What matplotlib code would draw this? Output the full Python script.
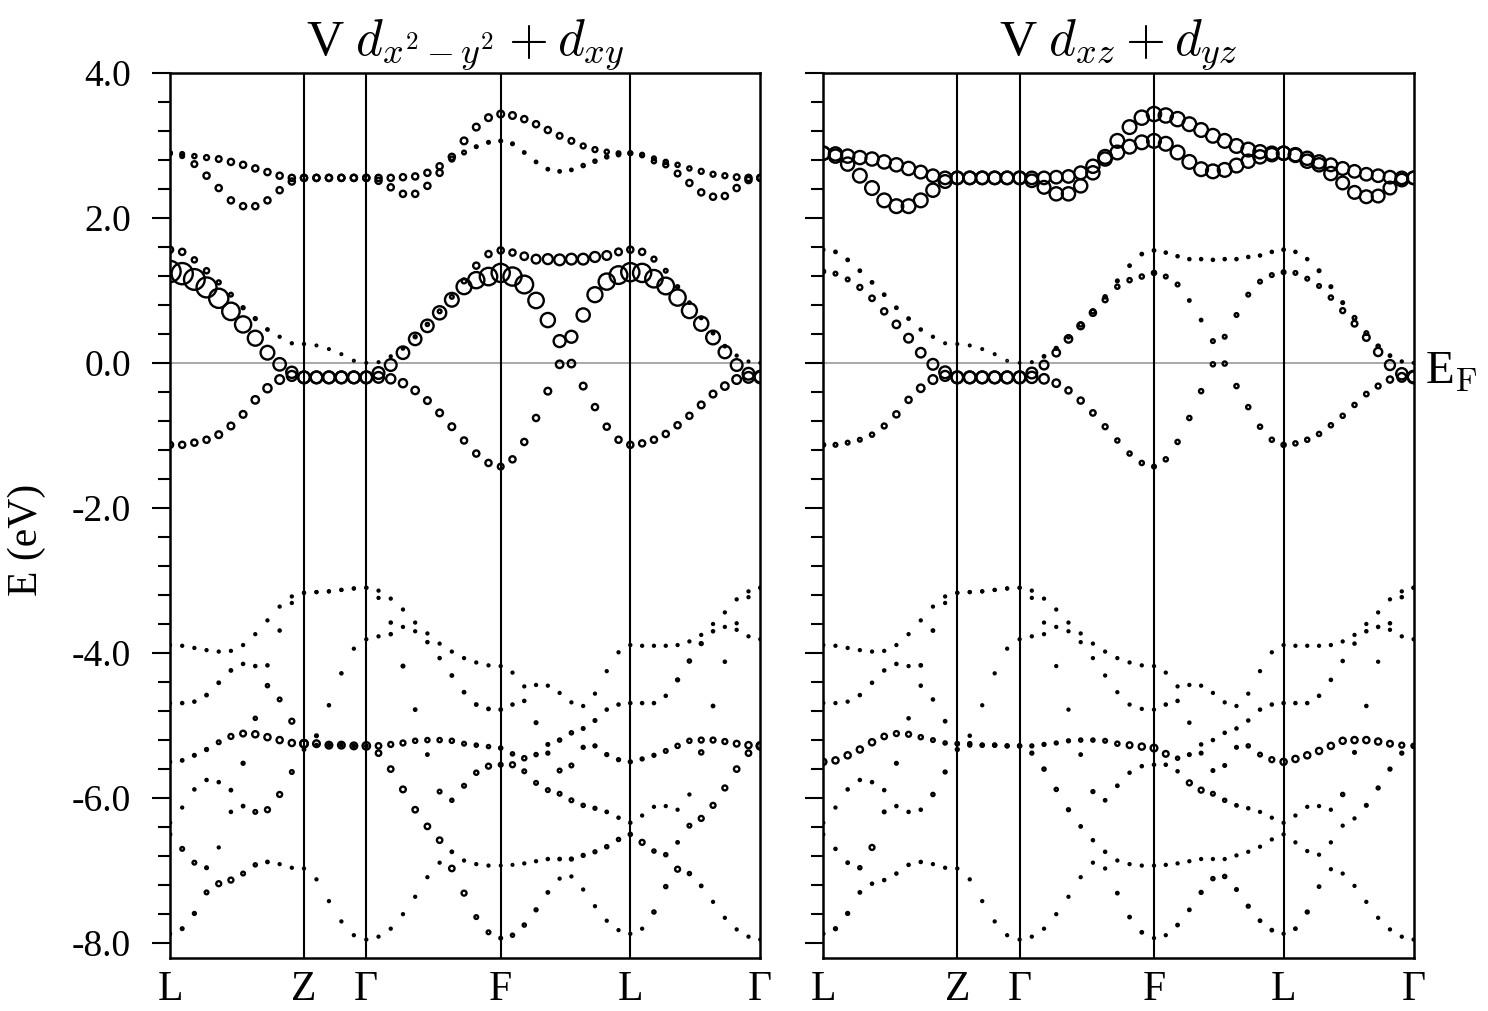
import numpy as np
import matplotlib
matplotlib.use('Agg')
import matplotlib.pyplot as plt
from matplotlib.ticker import FormatStrFormatter, MultipleLocator

plt.rcParams['font.family'] = 'serif'
plt.rcParams['font.serif'] = ['Liberation Serif', 'DejaVu Serif']
plt.rcParams['mathtext.fontset'] = 'cm'
plt.rcParams['axes.unicode_minus'] = False

# k-path: L-Z-G-F-L-G, segment lengths and number of intervals per segment
seg_len = [134.0, 62.3, 134.4, 129.6, 130.0]
seg_pts = [11, 5, 11, 11, 11]
sym_labels = ['L', 'Z', 'Γ', 'F', 'L', 'Γ']
titles = [r'V $d_{x^2-y^2}+d_{xy}$', r'V $d_{xz}+d_{yz}$']

# band energies (eV), one value per k-point (12 + 5 + 11 + 11 + 11 = 50)
u1 = [2.89, 2.88, 2.85, 2.83, 2.81, 2.77, 2.73, 2.68, 2.63, 2.58, 2.55, 2.55,
      2.55, 2.55, 2.55, 2.55, 2.55,
      2.55, 2.55, 2.56, 2.57, 2.62, 2.71, 2.84, 3.06, 3.25, 3.38, 3.43,
      3.41, 3.36, 3.29, 3.21, 3.13, 3.06, 2.99, 2.94, 2.91, 2.89, 2.89,
      2.87, 2.82, 2.77, 2.73, 2.68, 2.64, 2.60, 2.58, 2.56, 2.55, 2.55]
u2 = [2.89, 2.85, 2.74, 2.58, 2.41, 2.24, 2.16, 2.16, 2.24, 2.38, 2.50, 2.55,
      2.55, 2.55, 2.55, 2.55, 2.55,
      2.51, 2.42, 2.33, 2.33, 2.44, 2.62, 2.81, 2.90, 2.98, 3.04, 3.06,
      3.02, 2.90, 2.77, 2.67, 2.64, 2.66, 2.72, 2.78, 2.84, 2.87, 2.89,
      2.86, 2.78, 2.73, 2.61, 2.48, 2.35, 2.29, 2.30, 2.41, 2.52, 2.55]
m1 = [1.56, 1.53, 1.42, 1.27, 1.11, 0.94, 0.76, 0.61, 0.46, 0.36, 0.27, 0.26,
      0.24, 0.19, 0.12, 0.03, 0.00,
      0.01, 0.09, 0.20, 0.36, 0.53, 0.71, 0.91, 1.13, 1.34, 1.50, 1.55,
      1.52, 1.47, 1.43, 1.43, 1.42, 1.43, 1.43, 1.46, 1.48, 1.53, 1.56,
      1.53, 1.43, 1.27, 1.05, 0.83, 0.62, 0.41, 0.23, 0.10, 0.02, 0.00]
m2 = [1.26, 1.23, 1.15, 1.04, 0.89, 0.71, 0.53, 0.34, 0.14, -0.02, -0.13, -0.20,
      -0.20, -0.20, -0.20, -0.20, -0.20,
      -0.14, -0.03, 0.14, 0.33, 0.51, 0.69, 0.87, 1.05, 1.14, 1.19, 1.24,
      1.19, 1.08, 0.86, 0.59, 0.30, 0.36, 0.66, 0.94, 1.12, 1.21, 1.25,
      1.24, 1.16, 1.06, 0.90, 0.72, 0.54, 0.35, 0.15, -0.03, -0.15, -0.19]
m3 = [-1.13, -1.13, -1.10, -1.06, -0.99, -0.87, -0.71, -0.51, -0.35, -0.23, -0.18, -0.20,
      -0.20, -0.20, -0.20, -0.20, -0.20,
      -0.20, -0.22, -0.28, -0.38, -0.52, -0.69, -0.88, -1.07, -1.25, -1.38, -1.43,
      -1.33, -1.09, -0.76, -0.39, -0.02, -0.01, -0.32, -0.61, -0.88, -1.06, -1.13,
      -1.11, -1.06, -0.98, -0.86, -0.73, -0.58, -0.43, -0.32, -0.23, -0.20, -0.20]
v1 = [-3.89, -3.90, -3.93, -3.96, -3.98, -3.97, -3.89, -3.74, -3.55, -3.36, -3.22, -3.17,
      -3.16, -3.15, -3.13, -3.11, -3.10,
      -3.14, -3.25, -3.40, -3.58, -3.73, -3.87, -3.98, -4.07, -4.13, -4.17, -4.18,
      -4.27, -4.46, -4.44, -4.45, -4.55, -4.68, -4.73, -4.56, -4.25, -3.99, -3.89,
      -3.90, -3.90, -3.90, -3.89, -3.84, -3.75, -3.60, -3.44, -3.26, -3.15, -3.10]
v2 = [-4.69, -4.69, -4.67, -4.58, -4.41, -4.24, -4.15, -4.18, -4.17, -3.69, -3.31, -3.17,
      -3.16, -3.15, -3.13, -3.11, -3.10,
      -3.24, -3.58, -3.64, -3.70, -3.85, -4.07, -4.31, -4.54, -4.71, -4.77, -4.78,
      -4.71, -4.66, -4.96, -5.26, -5.20, -5.10, -5.04, -4.93, -4.78, -4.71, -4.69,
      -4.69, -4.69, -4.59, -4.37, -4.11, -3.87, -3.70, -3.64, -3.59, -3.23, -3.10]
v3 = [-5.50, -5.48, -5.41, -5.33, -5.23, -5.15, -5.11, -4.90, -4.45, -4.64, -4.94, -5.25,
      -5.14, -4.72, -4.28, -3.94, -3.81,
      -3.77, -3.74, -4.18, -4.78, -5.20, -5.20, -5.21, -5.25, -5.27, -5.29, -5.31,
      -5.39, -5.45, -5.40, -5.38, -5.62, -5.55, -5.30, -5.28, -5.40, -5.47, -5.50,
      -5.46, -5.41, -5.35, -5.28, -5.21, -5.20, -4.73, -4.12, -3.68, -3.77, -3.81]
v4 = [-6.34, -6.13, -5.88, -5.75, -5.78, -5.89, -5.52, -5.12, -5.16, -5.20, -5.24, -5.25,
      -5.25, -5.27, -5.27, -5.28, -5.28,
      -5.28, -5.26, -5.24, -5.21, -5.40, -5.91, -6.03, -5.83, -5.65, -5.56, -5.54,
      -5.54, -5.63, -5.79, -5.89, -5.94, -6.03, -6.10, -6.14, -6.19, -6.27, -6.34,
      -6.24, -6.12, -6.11, -6.16, -5.95, -5.37, -5.20, -5.22, -5.25, -5.27, -5.28]
v5 = [-6.50, -6.70, -6.89, -6.96, -6.68, -6.19, -6.11, -6.19, -6.16, -5.95, -5.64, -5.33,
      -5.27, -5.27, -5.27, -5.28, -5.28,
      -5.38, -5.60, -5.88, -6.16, -6.39, -6.58, -6.74, -6.86, -6.91, -6.93, -6.93,
      -6.92, -6.90, -6.87, -6.84, -6.84, -6.84, -6.79, -6.74, -6.67, -6.57, -6.50,
      -6.61, -6.73, -6.78, -6.61, -6.38, -6.28, -6.10, -5.86, -5.60, -5.38, -5.28]
v6 = [-7.87, -7.80, -7.59, -7.30, -7.18, -7.13, -7.04, -6.92, -6.88, -6.91, -6.96, -6.97,
      -7.12, -7.42, -7.70, -7.89, -7.95,
      -7.91, -7.80, -7.60, -7.36, -7.09, -6.89, -6.97, -7.31, -7.64, -7.85, -7.93,
      -7.89, -7.75, -7.54, -7.30, -7.11, -7.08, -7.26, -7.49, -7.69, -7.82, -7.87,
      -7.80, -7.57, -7.22, -6.98, -7.04, -7.21, -7.43, -7.65, -7.81, -7.91, -7.95]

# orbital weights, left panel (dx2-y2 + dxy)
wl_u1 = [0.10, 0.10, 0.12, 0.15, 0.18, 0.20, 0.20, 0.20, 0.20, 0.20, 0.20, 0.20,
         0.20, 0.20, 0.20, 0.20, 0.20,
         0.20, 0.20, 0.20, 0.20, 0.20, 0.20, 0.20, 0.22, 0.22, 0.22, 0.22,
         0.22, 0.20, 0.20, 0.20, 0.18, 0.18, 0.15, 0.15, 0.12, 0.10, 0.10,
         0.10, 0.10, 0.12, 0.12, 0.12, 0.15, 0.15, 0.15, 0.18, 0.20, 0.20]
wl_u2 = [0.10, 0.10, 0.18, 0.20, 0.20, 0.20, 0.20, 0.20, 0.20, 0.20, 0.20, 0.20,
         0.20, 0.20, 0.20, 0.20, 0.20,
         0.20, 0.20, 0.20, 0.20, 0.20, 0.20, 0.15, 0.10, 0.06, 0.06, 0.06,
         0.06, 0.05, 0.05, 0.05, 0.05, 0.05, 0.08, 0.08, 0.08, 0.08, 0.10,
         0.10, 0.12, 0.15, 0.18, 0.20, 0.20, 0.20, 0.20, 0.20, 0.20, 0.20]
wl_m1 = [0.20, 0.20, 0.16, 0.16, 0.11, 0.10, 0.07, 0.07, 0.05, 0.03, 0.03, 0.03,
         0.02, 0.02, 0.02, 0.02, 0.02,
         0.02, 0.03, 0.05, 0.07, 0.08, 0.10, 0.10, 0.15, 0.20, 0.20, 0.20,
         0.20, 0.25, 0.30, 0.35, 0.38, 0.38, 0.38, 0.35, 0.30, 0.22, 0.20,
         0.20, 0.15, 0.10, 0.07, 0.05, 0.05, 0.05, 0.05, 0.03, 0.02, 0.02]
wl_m2 = [0.80, 0.80, 0.78, 0.75, 0.72, 0.65, 0.60, 0.55, 0.50, 0.45, 0.40, 0.42,
         0.42, 0.42, 0.42, 0.42, 0.42,
         0.42, 0.42, 0.45, 0.45, 0.45, 0.48, 0.50, 0.55, 0.60, 0.65, 0.68,
         0.68, 0.66, 0.57, 0.52, 0.43, 0.43, 0.48, 0.55, 0.60, 0.66, 0.68,
         0.68, 0.65, 0.62, 0.60, 0.55, 0.52, 0.50, 0.45, 0.42, 0.42, 0.42]
wl_m3 = [0.20, 0.20, 0.20, 0.20, 0.22, 0.22, 0.22, 0.25, 0.28, 0.30, 0.35, 0.42,
         0.42, 0.42, 0.42, 0.42, 0.42,
         0.38, 0.32, 0.28, 0.25, 0.22, 0.22, 0.22, 0.20, 0.20, 0.20, 0.18,
         0.20, 0.20, 0.20, 0.22, 0.25, 0.25, 0.22, 0.20, 0.20, 0.20, 0.20,
         0.20, 0.20, 0.20, 0.20, 0.20, 0.22, 0.22, 0.25, 0.30, 0.38, 0.42]
wl_v1 = [0.03] * 50
wl_v2 = [0.03, 0.04, 0.04, 0.05, 0.05, 0.05, 0.04, 0.04, 0.04, 0.04, 0.03, 0.03,
         0.03, 0.03, 0.03, 0.03, 0.03,
         0.03, 0.04, 0.03, 0.03, 0.04, 0.04, 0.05, 0.05, 0.05, 0.05, 0.05,
         0.04, 0.04, 0.06, 0.06, 0.08, 0.08, 0.06, 0.06, 0.04, 0.04, 0.04,
         0.04, 0.04, 0.04, 0.07, 0.08, 0.07, 0.04, 0.03, 0.03, 0.03, 0.03]
wl_v3 = [0.04, 0.05, 0.06, 0.07, 0.10, 0.15, 0.18, 0.08, 0.08, 0.10, 0.15, 0.25,
         0.06, 0.04, 0.04, 0.03, 0.03,
         0.03, 0.04, 0.06, 0.05, 0.12, 0.12, 0.12, 0.10, 0.08, 0.08, 0.08,
         0.08, 0.12, 0.08, 0.07, 0.10, 0.10, 0.07, 0.07, 0.07, 0.07, 0.07,
         0.07, 0.07, 0.10, 0.12, 0.12, 0.15, 0.05, 0.04, 0.03, 0.03, 0.03]
wl_v4 = [0.04, 0.03, 0.04, 0.04, 0.04, 0.05, 0.07, 0.20, 0.20, 0.20, 0.20, 0.25,
         0.22, 0.22, 0.22, 0.22, 0.25,
         0.17, 0.15, 0.15, 0.12, 0.05, 0.10, 0.08, 0.10, 0.12, 0.15, 0.10,
         0.15, 0.10, 0.10, 0.10, 0.10, 0.10, 0.08, 0.07, 0.05, 0.04, 0.04,
         0.03, 0.03, 0.03, 0.03, 0.03, 0.12, 0.15, 0.15, 0.18, 0.20, 0.25]
wl_v5 = [0.05, 0.10, 0.10, 0.06, 0.03, 0.04, 0.05, 0.10, 0.15, 0.15, 0.10, 0.05,
         0.05, 0.05, 0.05, 0.05, 0.05,
         0.17, 0.17, 0.18, 0.17, 0.17, 0.17, 0.05, 0.03, 0.03, 0.03, 0.02,
         0.02, 0.03, 0.03, 0.04, 0.05, 0.07, 0.07, 0.07, 0.08, 0.08, 0.08,
         0.15, 0.08, 0.08, 0.05, 0.10, 0.15, 0.15, 0.15, 0.17, 0.17, 0.20]
wl_v6 = [0.03, 0.06, 0.07, 0.10, 0.15, 0.15, 0.10, 0.08, 0.05, 0.03, 0.03, 0.03,
         0.03, 0.03, 0.03, 0.03, 0.03,
         0.03, 0.03, 0.03, 0.03, 0.03, 0.03, 0.17, 0.15, 0.10, 0.10, 0.06,
         0.08, 0.08, 0.07, 0.05, 0.03, 0.03, 0.03, 0.03, 0.03, 0.03, 0.03,
         0.03, 0.08, 0.08, 0.15, 0.08, 0.05, 0.03, 0.03, 0.03, 0.03, 0.03]

# orbital weights, right panel (dxz + dyz)
wr_u1 = [0.48, 0.48, 0.48, 0.48, 0.48, 0.48, 0.48, 0.48, 0.46, 0.45, 0.45, 0.45,
         0.45, 0.45, 0.45, 0.45, 0.45,
         0.45, 0.45, 0.45, 0.45, 0.46, 0.48, 0.50, 0.50, 0.50, 0.52, 0.52,
         0.52, 0.52, 0.50, 0.50, 0.50, 0.50, 0.50, 0.50, 0.48, 0.48, 0.48,
         0.48, 0.48, 0.48, 0.46, 0.46, 0.45, 0.45, 0.45, 0.45, 0.45, 0.45]
wr_u2 = [0.48, 0.48, 0.48, 0.50, 0.50, 0.50, 0.50, 0.50, 0.50, 0.48, 0.46, 0.45,
         0.45, 0.45, 0.45, 0.45, 0.45,
         0.45, 0.46, 0.48, 0.48, 0.48, 0.48, 0.48, 0.50, 0.50, 0.50, 0.50,
         0.50, 0.50, 0.50, 0.50, 0.50, 0.50, 0.50, 0.48, 0.48, 0.48, 0.48,
         0.48, 0.48, 0.48, 0.48, 0.46, 0.46, 0.46, 0.46, 0.46, 0.45, 0.45]
wr_m1 = [0.04, 0.05, 0.05, 0.05, 0.05, 0.05, 0.05, 0.05, 0.04, 0.03, 0.02, 0.02,
         0.02, 0.02, 0.02, 0.01, 0.01,
         0.02, 0.05, 0.07, 0.08, 0.12, 0.12, 0.08, 0.06, 0.05, 0.05, 0.05,
         0.04, 0.04, 0.04, 0.04, 0.04, 0.04, 0.04, 0.04, 0.04, 0.04, 0.05,
         0.04, 0.04, 0.06, 0.06, 0.06, 0.10, 0.10, 0.08, 0.05, 0.03, 0.02]
wr_m2 = [0.10, 0.10, 0.10, 0.15, 0.17, 0.20, 0.25, 0.30, 0.33, 0.38, 0.42, 0.42,
         0.42, 0.42, 0.42, 0.42, 0.42,
         0.38, 0.30, 0.25, 0.25, 0.22, 0.20, 0.15, 0.12, 0.12, 0.12, 0.12,
         0.10, 0.10, 0.05, 0.05, 0.10, 0.10, 0.10, 0.10, 0.10, 0.10, 0.10,
         0.10, 0.10, 0.10, 0.12, 0.15, 0.18, 0.22, 0.28, 0.35, 0.40, 0.42]
wr_m3 = [0.10, 0.10, 0.10, 0.10, 0.12, 0.15, 0.20, 0.20, 0.25, 0.30, 0.35, 0.42,
         0.42, 0.42, 0.42, 0.42, 0.42,
         0.40, 0.33, 0.25, 0.20, 0.20, 0.17, 0.15, 0.12, 0.12, 0.12, 0.10,
         0.12, 0.12, 0.12, 0.12, 0.12, 0.12, 0.12, 0.12, 0.12, 0.12, 0.12,
         0.12, 0.12, 0.12, 0.12, 0.12, 0.12, 0.13, 0.15, 0.20, 0.30, 0.42]
wr_v1 = [0.03] * 50
wr_v2 = [0.03, 0.03, 0.03, 0.04, 0.04, 0.04, 0.04, 0.03, 0.05, 0.05, 0.03, 0.03,
         0.03, 0.03, 0.03, 0.03, 0.03,
         0.03, 0.03, 0.03, 0.03, 0.03, 0.03, 0.03, 0.03, 0.03, 0.03, 0.03,
         0.04, 0.04, 0.04, 0.04, 0.04, 0.04, 0.04, 0.04, 0.04, 0.04, 0.04,
         0.04, 0.04, 0.04, 0.04, 0.04, 0.04, 0.04, 0.04, 0.04, 0.04, 0.04]
wr_v3 = [0.20, 0.20, 0.20, 0.20, 0.20, 0.17, 0.15, 0.04, 0.04, 0.04, 0.05, 0.08,
         0.04, 0.03, 0.03, 0.03, 0.03,
         0.03, 0.03, 0.03, 0.03, 0.08, 0.08, 0.10, 0.12, 0.18, 0.20, 0.22,
         0.18, 0.08, 0.06, 0.06, 0.06, 0.06, 0.06, 0.08, 0.10, 0.15, 0.20,
         0.20, 0.20, 0.20, 0.20, 0.20, 0.20, 0.04, 0.03, 0.03, 0.03, 0.03]
wr_v4 = [0.03, 0.03, 0.04, 0.04, 0.04, 0.04, 0.06, 0.15, 0.12, 0.10, 0.08, 0.08,
         0.08, 0.08, 0.08, 0.07, 0.08,
         0.07, 0.07, 0.07, 0.07, 0.05, 0.07, 0.05, 0.05, 0.04, 0.04, 0.04,
         0.04, 0.04, 0.15, 0.15, 0.10, 0.08, 0.05, 0.04, 0.03, 0.03, 0.03,
         0.03, 0.03, 0.03, 0.03, 0.08, 0.06, 0.20, 0.20, 0.18, 0.15, 0.12]
wr_v5 = [0.03, 0.04, 0.05, 0.08, 0.15, 0.06, 0.04, 0.04, 0.04, 0.08, 0.07, 0.07,
         0.07, 0.07, 0.07, 0.07, 0.07,
         0.07, 0.08, 0.08, 0.07, 0.05, 0.04, 0.04, 0.03, 0.03, 0.03, 0.03,
         0.03, 0.03, 0.03, 0.03, 0.03, 0.03, 0.03, 0.03, 0.03, 0.03, 0.03,
         0.03, 0.03, 0.03, 0.03, 0.03, 0.03, 0.06, 0.07, 0.07, 0.07, 0.08]
wr_v6 = [0.04, 0.07, 0.07, 0.05, 0.04, 0.04, 0.04, 0.04, 0.04, 0.03, 0.03, 0.03,
         0.03, 0.03, 0.03, 0.03, 0.03,
         0.03, 0.03, 0.03, 0.03, 0.03, 0.03, 0.03, 0.05, 0.05, 0.05, 0.03,
         0.03, 0.05, 0.05, 0.07, 0.08, 0.08, 0.06, 0.07, 0.05, 0.05, 0.03,
         0.05, 0.07, 0.05, 0.03, 0.03, 0.03, 0.03, 0.03, 0.03, 0.03, 0.03]

bands = [u1, u2, m1, m2, m3, v1, v2, v3, v4, v5, v6]
w_left = [wl_u1, wl_u2, wl_m1, wl_m2, wl_m3, wl_v1, wl_v2, wl_v3, wl_v4, wl_v5, wl_v6]
w_right = [wr_u1, wr_u2, wr_m1, wr_m2, wr_m3, wr_v1, wr_v2, wr_v3, wr_v4, wr_v5, wr_v6]

# build the k-axis
k = [0.0]
start = 0.0
for L, n in zip(seg_len, seg_pts):
    k.extend(np.linspace(start, start + L, n + 1)[1:])
    start += L
k = np.array(k)
sym_k = np.concatenate([[0.0], np.cumsum(seg_len)])


def msize(w):
    # marker diameter in pixels grows with orbital weight
    d_px = 1.2 + 25.0 * np.asarray(w)
    return (d_px * 0.72) ** 2


fig = plt.figure(figsize=(14.88, 10.11), dpi=100)
ax1 = fig.add_axes([0.11425, 0.05272, 0.39671, 0.87537])
ax2 = fig.add_axes([0.55329, 0.05272, 0.39671, 0.87537])

for ax, weights, title in [(ax1, w_left, titles[0]), (ax2, w_right, titles[1])]:
    ax.axhline(0, color='#9a9a9a', lw=1.2, zorder=1)
    for x in sym_k[1:-1]:
        ax.axvline(x, color='black', lw=1.5, zorder=2)
    for e, w in zip(bands, weights):
        ax.scatter(k, e, s=msize(w), facecolors='none', edgecolors='black',
                   linewidths=1.7, zorder=3)
    ax.set_xlim(0, sym_k[-1])
    ax.set_ylim(-8.2, 4.0)
    ax.set_xticks(sym_k)
    ax.set_xticklabels(sym_labels, fontsize=30)
    ax.tick_params(axis='x', length=0, pad=9)
    ax.yaxis.set_major_locator(MultipleLocator(2.0))
    ax.yaxis.set_minor_locator(MultipleLocator(0.4))
    ax.yaxis.set_major_formatter(FormatStrFormatter('%.1f'))
    ax.tick_params(axis='y', which='major', direction='out', length=13, width=1.5,
                   labelsize=27, pad=15)
    ax.tick_params(axis='y', which='minor', direction='out', length=8.5, width=1.5)
    for sp in ax.spines.values():
        sp.set_linewidth(1.8)
    ax.set_title(title, fontsize=37, pad=6)

ax2.tick_params(axis='y', labelleft=False)

fig.text(0.018, 0.466, 'E (eV)', rotation=90, ha='center', va='center', fontsize=30)
fig.text(0.9577, 0.632, r'E$_{\rm F}$', ha='left', va='center', fontsize=34)

fig.savefig('out.png', dpi=100)
